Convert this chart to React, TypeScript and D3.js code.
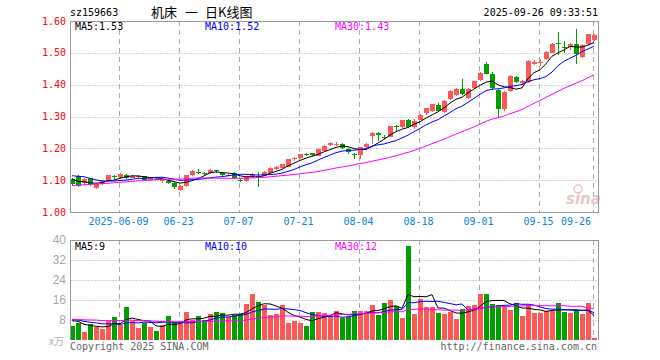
import React, { Component } from "react";
import * as d3 from "d3";

// daily candles sz159663, 2025-05-27 .. 2025-09-26 (oldest first)
const opens = [1.103, 1.113, 1.090, 1.106, 1.076, 1.089, 1.096, 1.113, 1.110, 1.117,
  1.108, 1.110, 1.113, 1.100, 1.105, 1.097, 1.098, 1.090, 1.068, 1.082,
  1.116, 1.126, 1.122, 1.122, 1.131, 1.124, 1.114, 1.123, 1.102, 1.098,
  1.110, 1.114, 1.114, 1.124, 1.136, 1.139, 1.142, 1.165, 1.169, 1.182,
  1.184, 1.177, 1.193, 1.210, 1.211, 1.214, 1.198, 1.182, 1.179, 1.205,
  1.238, 1.249, 1.237, 1.237, 1.270, 1.266, 1.290, 1.266, 1.290, 1.311,
  1.316, 1.336, 1.315, 1.355, 1.368, 1.386, 1.357, 1.390, 1.415, 1.466,
  1.433, 1.384, 1.323, 1.380, 1.425, 1.404, 1.407, 1.466, 1.468, 1.480,
  1.500, 1.530, 1.518, 1.517, 1.527, 1.486, 1.527, 1.540];
const highs = [1.106, 1.116, 1.108, 1.108, 1.091, 1.101, 1.117, 1.115, 1.124, 1.119,
  1.117, 1.116, 1.114, 1.108, 1.107, 1.104, 1.100, 1.093, 1.084, 1.117,
  1.131, 1.135, 1.126, 1.134, 1.132, 1.126, 1.120, 1.125, 1.106, 1.114,
  1.121, 1.127, 1.128, 1.140, 1.145, 1.151, 1.168, 1.172, 1.182, 1.186,
  1.186, 1.199, 1.209, 1.220, 1.220, 1.216, 1.200, 1.186, 1.205, 1.216,
  1.250, 1.251, 1.243, 1.271, 1.272, 1.290, 1.293, 1.292, 1.308, 1.328,
  1.340, 1.342, 1.352, 1.382, 1.388, 1.418, 1.388, 1.412, 1.440, 1.470,
  1.440, 1.386, 1.380, 1.430, 1.427, 1.416, 1.476, 1.479, 1.480, 1.505,
  1.532, 1.566, 1.538, 1.530, 1.575, 1.528, 1.560, 1.558];
const lows = [1.085, 1.077, 1.085, 1.082, 1.073, 1.086, 1.094, 1.100, 1.105, 1.105,
  1.106, 1.106, 1.097, 1.098, 1.100, 1.090, 1.087, 1.071, 1.065, 1.078,
  1.114, 1.118, 1.113, 1.120, 1.122, 1.111, 1.112, 1.104, 1.093, 1.095,
  1.108, 1.078, 1.112, 1.122, 1.133, 1.137, 1.140, 1.161, 1.167, 1.176,
  1.176, 1.175, 1.191, 1.207, 1.208, 1.197, 1.183, 1.166, 1.168, 1.201,
  1.213, 1.223, 1.228, 1.235, 1.253, 1.264, 1.263, 1.262, 1.288, 1.305,
  1.313, 1.314, 1.312, 1.352, 1.365, 1.366, 1.355, 1.386, 1.412, 1.432,
  1.383, 1.300, 1.316, 1.376, 1.405, 1.400, 1.405, 1.462, 1.460, 1.476,
  1.498, 1.494, 1.500, 1.510, 1.464, 1.483, 1.524, 1.536];
const closes = [1.088, 1.083, 1.105, 1.087, 1.089, 1.097, 1.115, 1.111, 1.120, 1.108,
  1.114, 1.113, 1.100, 1.106, 1.103, 1.102, 1.090, 1.077, 1.082, 1.115,
  1.128, 1.123, 1.119, 1.131, 1.129, 1.116, 1.117, 1.107, 1.100, 1.112,
  1.118, 1.112, 1.127, 1.139, 1.142, 1.150, 1.167, 1.169, 1.181, 1.180,
  1.178, 1.198, 1.208, 1.216, 1.215, 1.200, 1.187, 1.178, 1.203, 1.213,
  1.249, 1.242, 1.234, 1.270, 1.266, 1.289, 1.268, 1.287, 1.306, 1.326,
  1.338, 1.316, 1.350, 1.380, 1.386, 1.370, 1.386, 1.410, 1.438, 1.435,
  1.390, 1.325, 1.378, 1.428, 1.408, 1.410, 1.473, 1.470, 1.472, 1.504,
  1.528, 1.527, 1.514, 1.527, 1.497, 1.525, 1.558, 1.555];
// volume in 万手
const volumes = [5.6, 6.9, 3.3, 6.4, 5.3, 4.3, 7.7, 9.3, 6.0, 13.2,
  7.7, 4.9, 6.9, 5.2, 3.7, 6.0, 9.6, 6.7, 6.7, 11.3,
  8.0, 9.6, 8.0, 10.5, 11.2, 10.8, 9.1, 10.0, 10.4, 14.4,
  18.4, 15.3, 14.0, 10.0, 10.4, 14.0, 7.0, 7.7, 6.9, 5.6,
  11.2, 11.2, 10.8, 9.8, 11.7, 8.7, 9.1, 11.7, 11.7, 11.7,
  14.0, 10.0, 14.9, 16.0, 13.6, 8.9, 37.7, 10.4, 16.4, 13.1,
  13.1, 10.9, 10.4, 11.3, 8.4, 12.5, 13.6, 14.0, 18.4, 18.4,
  14.4, 14.0, 13.6, 12.0, 14.7, 9.6, 14.0, 10.9, 10.9, 11.7,
  11.7, 14.7, 11.3, 10.9, 12.0, 10.4, 14.9, 0.8];

// the 29 sessions before the window, only used to seed the moving averages
const priorCloses = [1.050, 1.055, 1.060, 1.058, 1.065, 1.070, 1.062, 1.068, 1.072, 1.066,
  1.070, 1.075, 1.068, 1.064, 1.070, 1.072, 1.078, 1.074, 1.070, 1.082,
  1.100, 1.120, 1.140, 1.135, 1.130, 1.118, 1.110, 1.104, 1.095];
const priorVolumes = [9.5, 7.2, 8.8, 6.5, 10.2, 7.8, 9.1, 6.9, 8.4, 7.5,
  9.8, 8.2, 7.0, 9.4, 8.6, 7.9, 10.5, 6.8, 8.1, 9.0,
  9.2, 8.1, 10.4, 7.6, 8.2, 7.9, 9.3, 8.6, 7.1];

// date labels: index into the candle arrays
const dateIdx = [8, 18, 28, 38, 48, 58, 68, 78, 87];
const dateLabels = ["2025-06-09", "06-23", "07-07", "07-21", "08-04", "08-18", "09-01", "09-15", "09-26"];

const priceTicks = [1.0, 1.1, 1.2, 1.3, 1.4, 1.5, 1.6];
const volumeTicks = [8, 16, 24, 32, 40];

const maPeriods = [5, 10, 30];
const maColors = ["#000000", "#0000ff", "#ff00ff"];

const UP = "#ff5656";
const DOWN = "#00a000";
const GRID = "#aaaaaa";
const MONO = "'DejaVu Sans Mono', monospace";

function movingAverage(prior: number[], values: number[], n: number) {
  const all = prior.concat(values);
  return values.map((_, i) => d3.mean(all.slice(prior.length + i - n + 1, prior.length + i + 1)) as number);
}

class KChart extends Component {
  svgRef = React.createRef<SVGSVGElement>();

  componentDidMount() {
    this.draw();
  }

  draw() {
    const svg = d3.select(this.svgRef.current);
    svg.selectAll("*").remove();

    const left = 70.5, right = 598;
    const pTop = 21, pBot = 212, vTop = 240, vBot = 340;

    const x = d3.scaleLinear().domain([0, closes.length - 1]).range([72, 594]);
    const y = d3.scaleLinear().domain([1.0, 1.6]).range([pBot, pTop]);
    const yv = d3.scaleLinear().domain([0, 40]).range([vBot, vTop]);

    const defs = svg.append("defs");
    defs.append("clipPath").attr("id", "clipP")
      .append("rect").attr("x", left + 0.5).attr("y", pTop).attr("width", right - left - 1).attr("height", pBot - pTop);
    defs.append("clipPath").attr("id", "clipV")
      .append("rect").attr("x", left + 0.5).attr("y", vTop).attr("width", right - left - 1).attr("height", vBot - vTop);

    // header
    svg.append("text").attr("x", 70).attr("y", 16).attr("font-family", MONO).attr("font-size", 10)
      .attr("fill", "#000").text("sz159663");
    const title = svg.append("text").attr("y", 17).attr("font-family", "'Noto Sans CJK SC', sans-serif")
      .attr("font-size", 13).attr("fill", "#000");
    title.append("tspan").attr("x", 151).text("机床");
    title.append("tspan").attr("x", 185).text("一");
    title.append("tspan").attr("x", 205).text("日K线图");
    svg.append("text").attr("x", 598).attr("y", 16).attr("text-anchor", "end").attr("font-family", MONO)
      .attr("font-size", 10).attr("fill", "#000").text("2025-09-26 09:33:51");

    // horizontal grid (dotted)
    svg.append("g").selectAll("line").data(priceTicks.slice(1, -1)).join("line")
      .attr("x1", left).attr("x2", right)
      .attr("y1", d => Math.round(y(d)) + 0.5).attr("y2", d => Math.round(y(d)) + 0.5)
      .attr("stroke", GRID).attr("stroke-dasharray", "1,2");
    svg.append("g").selectAll("line").data(volumeTicks.slice(0, -1)).join("line")
      .attr("x1", left).attr("x2", right)
      .attr("y1", d => Math.round(yv(d)) + 0.5).attr("y2", d => Math.round(yv(d)) + 0.5)
      .attr("stroke", GRID).attr("stroke-dasharray", "1,2");

    // vertical grid (dashed) at date labels
    const vx = (i: number) => Math.round(x(i) - 1.5) + 0.5;
    [[pTop, pBot], [vTop, vBot]].forEach(([a, b]) => {
      svg.append("g").selectAll("line").data(dateIdx).join("line")
        .attr("x1", d => vx(d)).attr("x2", d => vx(d))
        .attr("y1", a).attr("y2", b)
        .attr("stroke", GRID).attr("stroke-dasharray", "5,4");
    });

    // price labels
    svg.append("g").selectAll("text").data(priceTicks).join("text")
      .attr("x", 66).attr("y", d => y(d)).attr("dy", "0.35em").attr("text-anchor", "end")
      .attr("font-family", MONO).attr("font-size", 10).attr("fill", "#ff0000")
      .text(d => d.toFixed(2));

    // volume labels
    svg.append("g").selectAll("text").data(volumeTicks).join("text")
      .attr("x", 66).attr("y", d => yv(d)).attr("dy", "0.35em").attr("text-anchor", "end")
      .attr("font-family", "'Liberation Sans', Arial, sans-serif").attr("font-size", 12).attr("fill", "#a8a8a8")
      .text(d => d);
    svg.append("text").attr("x", 49).attr("y", 345).attr("font-family", "'Noto Sans CJK SC', sans-serif")
      .attr("font-size", 10).attr("fill", "#b0b0b0").text("x万");

    // date labels
    svg.append("g").selectAll("text").data(dateIdx).join("text")
      .attr("x", (d, i) => (i === dateIdx.length - 1 ? 591 : x(d) - 1.5))
      .attr("y", 225)
      .attr("text-anchor", (d, i) => (i === dateIdx.length - 1 ? "end" : "middle"))
      .attr("font-family", MONO).attr("font-size", 10).attr("fill", "#0b84da")
      .text((d, i) => dateLabels[i]);

    // watermark
    svg.append("text").attr("x", 566).attr("y", 204).attr("font-family", "'DejaVu Sans', sans-serif")
      .attr("font-size", 15).attr("font-weight", "bold").attr("font-style", "italic")
      .attr("fill", "#e6c9c9").text("sina");
    svg.append("circle").attr("cx", 578).attr("cy", 189).attr("r", 4)
      .attr("fill", "none").attr("stroke", "#efc0c0").attr("stroke-width", 1.5);

    const idx = d3.range(closes.length);
    const colorOf = (i: number) => (closes[i] >= opens[i] ? UP : DOWN);

    // candles
    const gc = svg.append("g").attr("clip-path", "url(#clipP)").attr("shape-rendering", "crispEdges");
    gc.selectAll(".wick").data(idx).join("line").attr("class", "wick")
      .attr("x1", d => Math.round(x(d)) + 0.5).attr("x2", d => Math.round(x(d)) + 0.5)
      .attr("y1", d => y(highs[d])).attr("y2", d => y(lows[d]))
      .attr("stroke", d => colorOf(d));
    gc.selectAll(".body").data(idx).join("rect").attr("class", "body")
      .attr("x", d => Math.round(x(d)) - 2)
      .attr("y", d => y(Math.max(opens[d], closes[d])))
      .attr("width", 5)
      .attr("height", d => Math.max(1, Math.abs(y(opens[d]) - y(closes[d]))))
      .attr("fill", d => colorOf(d));

    // volume bars
    const gv = svg.append("g").attr("clip-path", "url(#clipV)").attr("shape-rendering", "crispEdges");
    gv.selectAll("rect").data(idx).join("rect")
      .attr("x", d => Math.round(x(d)) - 2)
      .attr("y", d => yv(volumes[d]))
      .attr("width", 5)
      .attr("height", d => vBot - yv(volumes[d]))
      .attr("fill", d => colorOf(d));

    // moving averages
    const priceMA = maPeriods.map(n => movingAverage(priorCloses, closes, n));
    const volMA = maPeriods.map(n => movingAverage(priorVolumes, volumes, n));
    const linePrice = d3.line<number>().x((d, i) => x(i)).y(d => y(d));
    const lineVol = d3.line<number>().x((d, i) => x(i)).y(d => yv(d));
    const gl = svg.append("g").attr("clip-path", "url(#clipP)");
    gl.selectAll("path").data(priceMA).join("path")
      .attr("d", d => linePrice(d)).attr("fill", "none")
      .attr("stroke", (d, i) => maColors[i]).attr("stroke-width", 1);
    const glv = svg.append("g").attr("clip-path", "url(#clipV)");
    glv.selectAll("path").data(volMA).join("path")
      .attr("d", d => lineVol(d)).attr("fill", "none")
      .attr("stroke", (d, i) => maColors[i]).attr("stroke-width", 1);

    // borders
    const border = svg.append("g").attr("stroke", "#999").attr("fill", "none").attr("shape-rendering", "crispEdges");
    border.append("rect").attr("x", left).attr("y", pTop + 0.5).attr("width", right - left).attr("height", pBot - pTop);
    border.append("path").attr("d", `M${left},${vBot}V${vTop + 0.5}H${right}V${vBot}`);

    // legends
    const last = closes.length - 1;
    const legX = [75, 205, 335];
    svg.append("g").selectAll("text").data(maPeriods).join("text")
      .attr("x", (d, i) => legX[i]).attr("y", 30)
      .attr("font-family", MONO).attr("font-size", 10).attr("fill", (d, i) => maColors[i])
      .text((d, i) => `MA${d}:${priceMA[i][last].toFixed(2)}`);
    svg.append("g").selectAll("text").data(maPeriods).join("text")
      .attr("x", (d, i) => legX[i]).attr("y", 250)
      .attr("font-family", MONO).attr("font-size", 10).attr("fill", (d, i) => maColors[i])
      .text((d, i) => `MA${d}:${Math.floor(volMA[i][last])}`);

    // footer
    svg.append("text").attr("x", 70).attr("y", 350).attr("font-family", MONO).attr("font-size", 10)
      .attr("fill", "#666").text("Copyright 2025 SINA.COM");
    svg.append("text").attr("x", 597).attr("y", 350).attr("text-anchor", "end").attr("font-family", MONO)
      .attr("font-size", 10).attr("fill", "#666").text("http://finance.sina.com.cn");
  }

  render() {
    return (
      <svg ref={this.svgRef} width={660} height={360}
        style={{ position: "absolute", left: 0, top: 0, background: "#fff" }} />
    );
  }
}

export default function App() {
  return <KChart />;
}
